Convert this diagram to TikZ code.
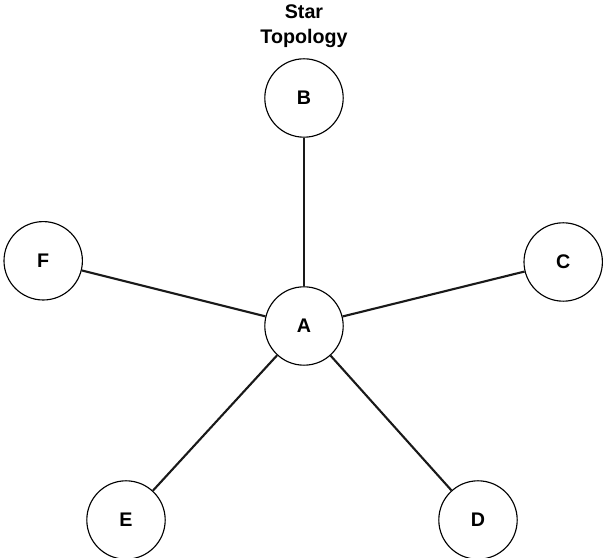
\documentclass[tikz,border=0pt]{standalone}
\usepackage{fontspec}
\setmainfont{Liberation Sans}
\usepackage{tikz}

\begin{document}
\begin{tikzpicture}[
		station/.style={circle, draw=black, line width=0.8pt, minimum size=1.96cm, inner sep=0pt, font=\fontsize{14}{16}\selectfont\bfseries},
		link/.style={line width=1.5pt, color=black!90}
	]
			%%%%% START %%%%%
			
			\useasboundingbox (0, 0) rectangle (15.1, 13.95);
			
			\node[align=center, font=\fontsize{14}{17.5}\selectfont\bfseries] (title) at (7.6, 13.3) {Star\\Topology};
			
			\node[station] (A) at (7.6, 5.8) {A};
			\node[station] (B) at (7.6, 11.5) {B};
			\node[station] (C) at (14.08, 7.4) {C};
			\node[station] (D) at (11.95, 0.95) {D};
			\node[station] (E) at (3.15, 0.95) {E};
			\node[station] (F) at (1.08, 7.43) {F};
			
			\draw[link] (A) -- (B);
			\draw[link] (A) -- (C);
			\draw[link] (A) -- (D);
			\draw[link] (A) -- (E);
			\draw[link] (A) -- (F);
			
			%%%%% END %%%%%
		\end{tikzpicture}
\end{document}
